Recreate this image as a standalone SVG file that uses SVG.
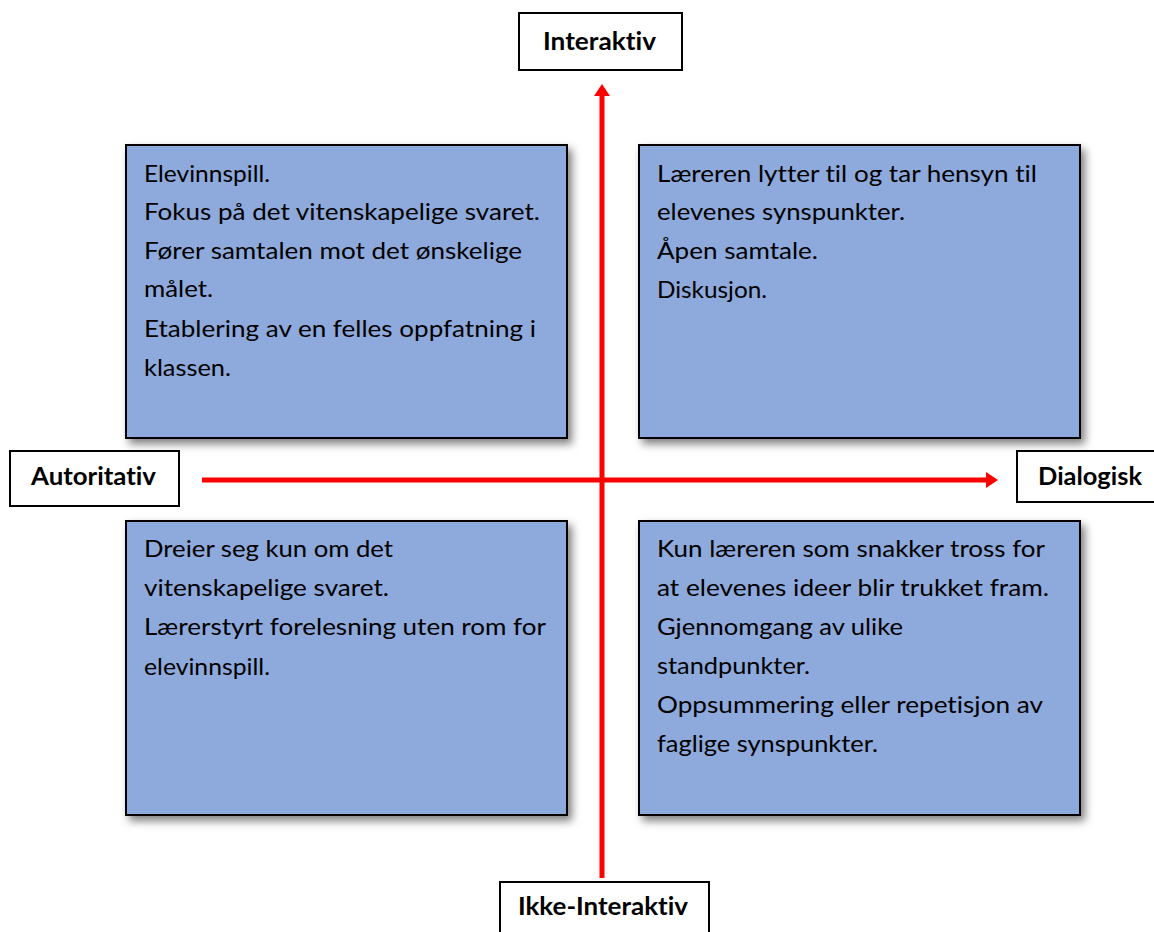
<svg xmlns="http://www.w3.org/2000/svg" width="1154" height="932" viewBox="0 0 1154 932">
<style>
.q{fill:#8EA9DB;stroke:#000;stroke-width:2}
.lb{fill:#fff;stroke:#000;stroke-width:2}
.t{font-family:Lato,"Liberation Sans",sans-serif;font-size:23px;fill:#000;font-variant-ligatures:none}
.b{font-family:Lato,"Liberation Sans",sans-serif;font-size:24px;font-weight:bold;fill:#000;font-variant-ligatures:none}
.ax{stroke:#FF0000;stroke-width:5;fill:none}
</style>
<defs>
<filter id="sh" x="-10%" y="-10%" width="125%" height="125%">
<feDropShadow dx="4" dy="5" stdDeviation="4" flood-color="#000" flood-opacity="0.5"/>
</filter>
<marker id="ah" markerUnits="userSpaceOnUse" markerWidth="14" markerHeight="16" refX="2" refY="8" orient="auto">
<path d="M0,0 L12,8 L0,16 Z" fill="#FF0000"/>
</marker>
</defs>
<g id="connectors">
<line class="ax" x1="602" y1="878" x2="602" y2="94" marker-end="url(#ah)"/>
<line class="ax" x1="202" y1="480" x2="988" y2="480" marker-end="url(#ah)"/>
</g>
<g id="q-top-left">
<rect class="q" x="126" y="145" width="441" height="293" filter="url(#sh)"/>
<text class="t" x="144" y="182" textLength="126" lengthAdjust="spacingAndGlyphs">Elevinnspill.</text>
<text class="t" x="144" y="220" textLength="396" lengthAdjust="spacingAndGlyphs">Fokus på det vitenskapelige svaret.</text>
<text class="t" x="144" y="259" textLength="378" lengthAdjust="spacingAndGlyphs">Fører samtalen mot det ønskelige</text>
<text class="t" x="144" y="297" textLength="69" lengthAdjust="spacingAndGlyphs">målet.</text>
<text class="t" x="144" y="337" textLength="392" lengthAdjust="spacingAndGlyphs">Etablering av en felles oppfatning i</text>
<text class="t" x="144" y="376" textLength="87" lengthAdjust="spacingAndGlyphs">klassen.</text>
</g>
<g id="q-top-right">
<rect class="q" x="639" y="145" width="441" height="293" filter="url(#sh)"/>
<text class="t" x="657" y="182" textLength="380" lengthAdjust="spacingAndGlyphs">Læreren lytter til og tar hensyn til</text>
<text class="t" x="657" y="220" textLength="248" lengthAdjust="spacingAndGlyphs">elevenes synspunkter.</text>
<text class="t" x="657" y="259" textLength="161" lengthAdjust="spacingAndGlyphs">Åpen samtale.</text>
<text class="t" x="657" y="298" textLength="110" lengthAdjust="spacingAndGlyphs">Diskusjon.</text>
</g>
<g id="q-bottom-left">
<rect class="q" x="126" y="521" width="441" height="294" filter="url(#sh)"/>
<text class="t" x="144" y="557" textLength="249" lengthAdjust="spacingAndGlyphs">Dreier seg kun om det</text>
<text class="t" x="144" y="596" textLength="245" lengthAdjust="spacingAndGlyphs">vitenskapelige svaret.</text>
<text class="t" x="144" y="635" textLength="402" lengthAdjust="spacingAndGlyphs">Lærerstyrt forelesning uten rom for</text>
<text class="t" x="144" y="675" textLength="126" lengthAdjust="spacingAndGlyphs">elevinnspill.</text>
</g>
<g id="q-bottom-right">
<rect class="q" x="639" y="521" width="441" height="294" filter="url(#sh)"/>
<text class="t" x="657" y="557" textLength="388" lengthAdjust="spacingAndGlyphs">Kun læreren som snakker tross for</text>
<text class="t" x="657" y="596" textLength="392" lengthAdjust="spacingAndGlyphs">at elevenes ideer blir trukket fram.</text>
<text class="t" x="657" y="635" textLength="246" lengthAdjust="spacingAndGlyphs">Gjennomgang av ulike</text>
<text class="t" x="657" y="674" textLength="153" lengthAdjust="spacingAndGlyphs">standpunkter.</text>
<text class="t" x="657" y="713" textLength="386" lengthAdjust="spacingAndGlyphs">Oppsummering eller repetisjon av</text>
<text class="t" x="657" y="752" textLength="221" lengthAdjust="spacingAndGlyphs">faglige synspunkter.</text>
</g>
<g id="label-interaktiv">
<rect class="lb" x="519" y="13" width="163" height="57"/>
<text class="b" x="543" y="50" textLength="113" lengthAdjust="spacingAndGlyphs">Interaktiv</text>
</g>
<g id="label-autoritativ">
<rect class="lb" x="10" y="451" width="169" height="55"/>
<text class="b" x="31" y="485" textLength="125" lengthAdjust="spacingAndGlyphs">Autoritativ</text>
</g>
<g id="label-dialogisk">
<rect class="lb" x="1017" y="451" width="145" height="51"/>
<text class="b" x="1038" y="485" textLength="104" lengthAdjust="spacingAndGlyphs">Dialogisk</text>
</g>
<g id="label-ikke-interaktiv">
<rect class="lb" x="500" y="882" width="209" height="60"/>
<text class="b" x="518" y="915" textLength="170" lengthAdjust="spacingAndGlyphs">Ikke-Interaktiv</text>
</g>
</svg>
